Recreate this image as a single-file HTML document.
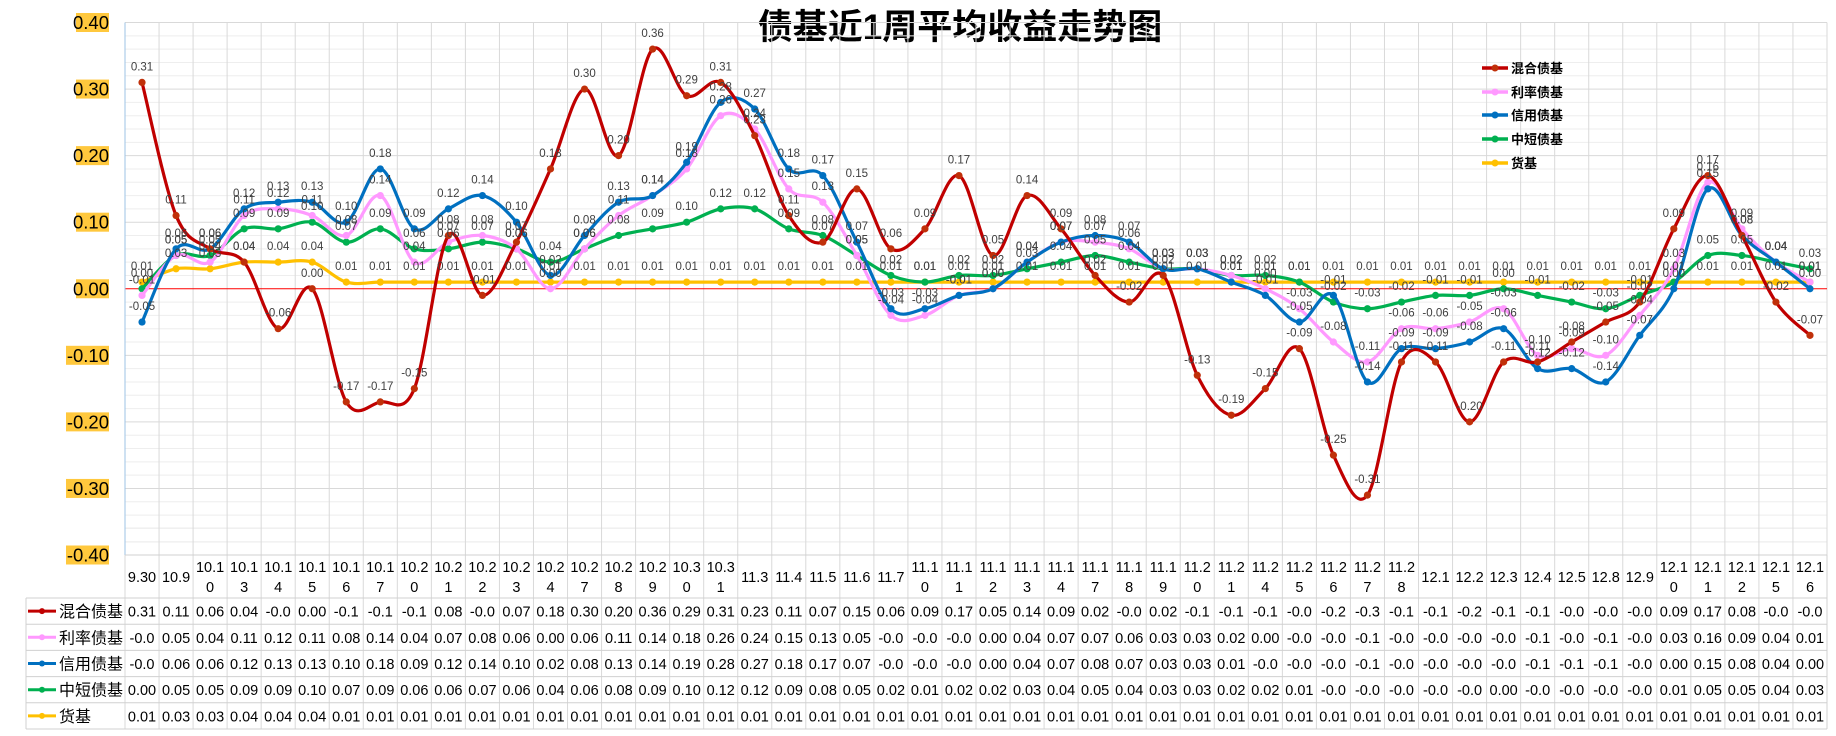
<!DOCTYPE html>
<html><head><meta charset="utf-8">
<style>
html,body{margin:0;padding:0;background:#fff;}
svg{display:block;}
text{font-family:"Liberation Sans","Noto Sans CJK SC",sans-serif;}
</style></head>
<body>
<svg id="chart" width="1836" height="736" viewBox="0 0 1836 736" xmlns="http://www.w3.org/2000/svg">
<text x="960" y="39" text-anchor="middle" font-size="35" font-weight="bold" fill="#000">债基近1周平均收益走势图</text>
<g id="grid"></g>
<g id="yaxis"></g>
<g id="table"></g>
<g id="series"></g>
<g id="labels"></g>
<g id="legend"></g>
</svg>
<script>
const categories=["9.30","10.9","10.10","10.13","10.14","10.15","10.16","10.17","10.20","10.21","10.22","10.23","10.24","10.27","10.28","10.29","10.30","10.31","11.3","11.4","11.5","11.6","11.7","11.10","11.11","11.12","11.13","11.14","11.17","11.18","11.19","11.20","11.21","11.24","11.25","11.26","11.27","11.28","12.1","12.2","12.3","12.4","12.5","12.8","12.9","12.10","12.11","12.12","12.15","12.16"];
const mixedValues=[0.31,0.11,0.06,0.04,-0.06,0.00,-0.17,-0.17,-0.15,0.08,-0.01,0.07,0.18,0.30,0.20,0.36,0.29,0.31,0.23,0.11,0.07,0.15,0.06,0.09,0.17,0.05,0.14,0.09,0.02,-0.02,0.02,-0.13,-0.19,-0.15,-0.09,-0.25,-0.31,-0.11,-0.11,-0.20,-0.11,-0.11,-0.08,-0.05,-0.02,0.09,0.17,0.08,-0.02,-0.07];
const rateValues=[-0.01,0.05,0.04,0.11,0.12,0.11,0.08,0.14,0.04,0.07,0.08,0.06,0.00,0.06,0.11,0.14,0.18,0.26,0.24,0.15,0.13,0.05,-0.04,-0.04,-0.01,0.00,0.04,0.07,0.07,0.06,0.03,0.03,0.02,0.00,-0.03,-0.08,-0.11,-0.06,-0.06,-0.05,-0.03,-0.10,-0.09,-0.10,-0.04,0.03,0.16,0.09,0.04,0.01];
const creditValues=[-0.05,0.06,0.06,0.12,0.13,0.13,0.10,0.18,0.09,0.12,0.14,0.10,0.02,0.08,0.13,0.14,0.19,0.28,0.27,0.18,0.17,0.07,-0.03,-0.03,-0.01,0.00,0.04,0.07,0.08,0.07,0.03,0.03,0.01,-0.01,-0.05,-0.01,-0.14,-0.09,-0.09,-0.08,-0.06,-0.12,-0.12,-0.14,-0.07,0.00,0.15,0.08,0.04,0.00];
const shortValues=[0.00,0.05,0.05,0.09,0.09,0.10,0.07,0.09,0.06,0.06,0.07,0.06,0.04,0.06,0.08,0.09,0.10,0.12,0.12,0.09,0.08,0.05,0.02,0.01,0.02,0.02,0.03,0.04,0.05,0.04,0.03,0.03,0.02,0.02,0.01,-0.02,-0.03,-0.02,-0.01,-0.01,0.00,-0.01,-0.02,-0.03,-0.01,0.01,0.05,0.05,0.04,0.03];
const moneyValues=[0.01,0.03,0.03,0.04,0.04,0.04,0.01,0.01,0.01,0.01,0.01,0.01,0.01,0.01,0.01,0.01,0.01,0.01,0.01,0.01,0.01,0.01,0.01,0.01,0.01,0.01,0.01,0.01,0.01,0.01,0.01,0.01,0.01,0.01,0.01,0.01,0.01,0.01,0.01,0.01,0.01,0.01,0.01,0.01,0.01,0.01,0.01,0.01,0.01,0.01];
const seriesNames=["混合债基","利率债基","信用债基","中短债基","货基"];
const yTicks=[0.40,0.30,0.20,0.10,0.00,-0.10,-0.20,-0.30,-0.40];

const NS="http://www.w3.org/2000/svg";
const L=125,R=1827,T=22.5,B=555;
const colW=(R-L)/categories.length;
const yMax=0.4,yMin=-0.4;
function x(i){return L+(i+0.5)*colW;}
function y(v){return T+(yMax-v)/(yMax-yMin)*(B-T);}
function el(tag,attrs,parent,txt){const e=document.createElementNS(NS,tag);for(const k in attrs)e.setAttribute(k,attrs[k]);if(txt!==undefined)e.textContent=txt;parent.appendChild(e);return e;}
const grid=document.getElementById('grid');
for(let k=0;k<=40;k++){const v=yMax-k*0.02;if(k%5===0)continue;
 el('line',{x1:L,x2:R,y1:y(v),y2:y(v),stroke:'#eeeeee','stroke-width':1},grid);}
const rowTop=598,rowH=26.2;
[528,542].forEach(yy=>el('line',{x1:L,x2:R,y1:yy,y2:yy,stroke:'#eeeeee','stroke-width':1},grid));
for(let i=0;i<=categories.length;i++){const xx=L+i*colW;
 el('line',{x1:xx,x2:xx,y1:T,y2:rowTop+5*rowH,stroke:'#d9d9d9','stroke-width':1},grid);}
yTicks.forEach(v=>{if(v===0)return;el('line',{x1:L,x2:R,y1:y(v),y2:y(v),stroke:'#d9d9d9','stroke-width':1},grid);});
el('line',{x1:L,x2:R,y1:y(0),y2:y(0),stroke:'#ff0000','stroke-width':1},grid);
el('line',{x1:L,x2:L,y1:T,y2:B,stroke:'#9dc3e6','stroke-width':1},grid);
const ya=document.getElementById('yaxis');
yTicks.forEach(v=>{const t=v.toFixed(2);const w=t.length*10-7;
 const r=el('rect',{x:109-w,y:y(v)-9.5,width:w,height:19,fill:'#ffc83d'},ya);
 
 
 const tx=el('text',{x:109,y:y(v)+6.5,'text-anchor':'end','font-size':18.5,fill:'#000'},ya,t);
 
 
});
const tb=document.getElementById('table');
const colors=["#c00000","#ff99ff","#0070c0","#00b050","#ffc000"];
const data=[mixedValues,rateValues,creditValues,shortValues,moneyValues];
el('line',{x1:L,x2:R,y1:B,y2:B,stroke:'#d0d0d0'},tb);
for(let r=0;r<=5;r++){el('line',{x1:26,x2:R,y1:rowTop+r*rowH,y2:rowTop+r*rowH,stroke:'#d0d0d0'},tb);}
el('line',{x1:26,x2:26,y1:rowTop,y2:rowTop+5*rowH,stroke:'#d0d0d0'},tb);
el('line',{x1:R,x2:R,y1:B,y2:rowTop+5*rowH,stroke:'#d0d0d0'},tb);
categories.forEach((c,i)=>{
 let t;
 if(c.length<=4){t=el('text',{x:x(i),y:582,'text-anchor':'middle','font-size':14.5,fill:'#000'},tb,c);}
 else{t=el('text',{x:x(i),y:572,'text-anchor':'middle','font-size':14.5,fill:'#000'},tb,c.slice(0,4));
  const t2=el('text',{x:x(i),y:592,'text-anchor':'middle','font-size':14.5,fill:'#000'},tb,c.slice(4));
  
  }
 
 
});
function fmt(v){return v.toFixed(2).slice(0,4);}
data.forEach((arr,s)=>{const yy=rowTop+s*rowH+rowH/2;
 el('line',{x1:28,x2:56,y1:yy,y2:yy,stroke:colors[s],'stroke-width':3},tb);
 el('circle',{cx:42,cy:yy,r:3,fill:colors[s]},tb);
 const nm=el('text',{x:59,y:yy+6,'font-size':16,fill:'#000'},tb,seriesNames[s]);
 
 
 arr.forEach((v,i)=>{const c=el('text',{x:x(i),y:yy+5.5,'text-anchor':'middle','font-size':14.5,fill:'#000'},tb,fmt(v));
  
  });
});
const sg=document.getElementById('series');
function smooth(pts){let d=`M${pts[0][0]},${pts[0][1]}`;
 for(let i=0;i<pts.length-1;i++){const p0=pts[Math.max(i-1,0)],p1=pts[i],p2=pts[i+1],p3=pts[Math.min(i+2,pts.length-1)];
  const c1=[p1[0]+(p2[0]-p0[0])/6,p1[1]+(p2[1]-p0[1])/6],c2=[p2[0]-(p3[0]-p1[0])/6,p2[1]-(p3[1]-p1[1])/6];
  d+=` C${c1[0]},${c1[1]} ${c2[0]},${c2[1]} ${p2[0]},${p2[1]}`;}
 return d;}
const lg=document.getElementById('labels');
const order=[4,3,1,2,0];
order.forEach(s=>{const arr=data[s];
 const pts=arr.map((v,i)=>[x(i),y(v)]);
 const p=el('path',{d:smooth(pts),fill:'none',stroke:colors[s],'stroke-width':3.2,'stroke-linejoin':'round'},sg);
 
 
 pts.forEach(pt=>{const c=el('circle',{cx:pt[0],cy:pt[1],r:3.6,fill:s===0?'#c0300a':colors[s]},sg);
  
  });
 arr.forEach((v,i)=>{const t=el('text',{x:x(i),y:y(v)-12,'text-anchor':'middle','font-size':11.5,fill:'#404040'},lg,v.toFixed(2));
  
  });
});
const lgd=document.getElementById('legend');
const legY=[68,92,115,139,163];
seriesNames.forEach((n,s)=>{const g=el('g',{},lgd);
 
 
 el('line',{x1:1482,x2:1508,y1:legY[s],y2:legY[s],stroke:colors[s],'stroke-width':3.5},g);
 el('circle',{cx:1495,cy:legY[s],r:3.5,fill:s===0?'#c0300a':colors[s]},g);
 el('text',{x:1511,y:legY[s]+5,'font-size':13,'font-weight':'bold',fill:'#000'},g,n);
});
</script>
</body></html>
